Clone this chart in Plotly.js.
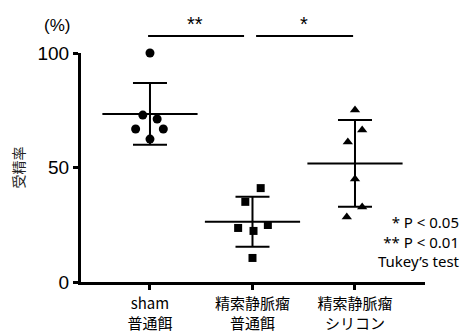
<!DOCTYPE html>
<html>
<head>
<meta charset="utf-8">
<script src="https://cdn.plot.ly/plotly-3.0.1.min.js"></script>
<style>html,body{margin:0;padding:0;background:#fff;}#chart{width:467px;height:333px;}</style>
</head>
<body>
<div id="chart"></div>
<script>
// Group labels
const categories = ["sham<br>普通餌", "精索静脈瘤<br>普通餌", "精索静脈瘤<br>シリコン"];
// Individual values (%)
const shamValues = [100, 72.9, 71.2, 66.8, 66.8, 62.4];
const shamOffsets = [0, -0.07, 0.07, -0.14, 0.13, 0];
const varicoceleValues = [41, 35, 23.6, 22.3, 24.9, 10.5];
const varicoceleOffsets = [0.08, -0.07, -0.14, 0.01, 0.15, 0];
const siliconeValues = [75.1, 66.4, 61.1, 45, 32.8, 28.4];
const siliconeOffsets = [0, 0.07, -0.07, 0, 0.07, -0.08];
// Summary (mean ± SD)
const means = [73.4, 26.3, 51.8];
const sds = [13.5, 10.9, 18.9];
const yTicks = [0, 50, 100];

const font = '"Liberation Sans", Arial, sans-serif';
const jp = '"Noto Sans CJK JP", "Noto Sans", sans-serif';
const ns = '"Noto Sans", sans-serif';

function pts(values, offsets, idx, symbol, size) {
  return {
    type: 'scatter', mode: 'markers',
    x: offsets.map(o => idx + o), y: values,
    marker: {symbol: symbol, size: size, color: '#000'},
    cliponaxis: false, showlegend: false, hoverinfo: 'y'
  };
}

const traces = [
  {
    type: 'scatter', mode: 'markers',
    x: [0, 1, 2], y: means,
    marker: {symbol: 'line-ew', size: 68, line: {width: 2, color: '#000'}, color: '#000'},
    error_y: {type: 'data', array: sds, visible: true, width: 17, thickness: 2, color: '#000'},
    cliponaxis: false, showlegend: false, hoverinfo: 'y'
  },
  pts(shamValues, shamOffsets, 0, 'circle', 9),
  pts(varicoceleValues, varicoceleOffsets, 1, 'square', 8),
  pts(siliconeValues, siliconeOffsets, 2, 'triangle-up', 9)
];

function note(text, x, y, size, fam, xanchor) {
  return {text: text, xref: 'paper', yref: 'paper', x: x, y: y,
          xanchor: xanchor || 'center', yanchor: 'middle', showarrow: false,
          align: xanchor || 'center',
          font: {family: fam, size: size, color: '#000'}};
}

const layout = {
  width: 467, height: 333,
  margin: {l: 81, r: 42, t: 53, b: 51},
  paper_bgcolor: '#fff', plot_bgcolor: '#fff',
  showlegend: false,
  xaxis: {
    range: [-0.673, 2.683],
    tickvals: [0, 1, 2], ticktext: categories,
    showline: true, linewidth: 3, linecolor: '#000',
    ticks: 'outside', ticklen: 5, tickwidth: 3, tickcolor: '#000',
    ticklabelstandoff: 1,
    showgrid: false, zeroline: false,
    tickfont: {family: jp, size: 15, color: '#000'}
  },
  yaxis: {
    range: [0, 100],
    tickvals: yTicks,
    showline: true, linewidth: 3, linecolor: '#000',
    ticks: 'outside', ticklen: 5, tickwidth: 3, tickcolor: '#000',
    showgrid: false, zeroline: false,
    tickfont: {family: font, size: 19, color: '#000'},
    title: {text: '受精率', font: {family: jp, size: 14, color: '#222'}, standoff: 10}
  },
  shapes: [
    {type: 'line', xref: 'paper', yref: 'paper', x0: 0.195, x1: 0.474, y0: 1.074, y1: 1.074, line: {color: '#000', width: 2}},
    {type: 'line', xref: 'paper', yref: 'paper', x0: 0.509, x1: 0.791, y0: 1.074, y1: 1.074, line: {color: '#000', width: 2}}
  ],
  annotations: [
    note('**', 0.331, 1.125, 20, font),
    note('*', 0.648, 1.125, 20, font),
    note('(%)', -0.07, 1.122, 17, font),
    note('* P < 0.05<br>** P < 0.01<br>Tukey’s test', 1.108, 0.179, 15, ns, 'right')
  ]
};

Plotly.newPlot('chart', traces, layout, {displayModeBar: false, staticPlot: true});
</script>
</body>
</html>
